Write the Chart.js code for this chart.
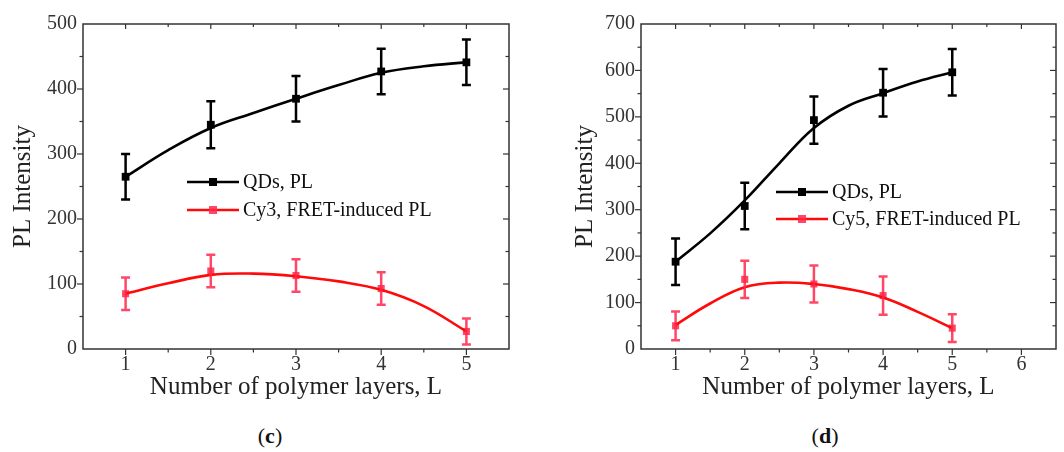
<!DOCTYPE html>
<html>
<head>
<meta charset="utf-8">
<script src="https://cdn.jsdelivr.net/npm/chart.js@4/dist/chart.umd.min.js"></script>
<style>
  body { margin: 0; background: #fff; width: 1064px; height: 452px; position: relative; overflow: hidden; }
  canvas { position: absolute; top: 0; }
  #chartC { left: 0; }
  #chartD { left: 532px; }
  .cap { position: absolute; top: 423px; font: 22px "Liberation Serif", serif; color: #111; transform: translateX(-50%); }
</style>
</head>
<body>
<canvas id="chartC" width="532" height="410"></canvas>
<canvas id="chartD" width="532" height="410"></canvas>
<div class="cap" style="left:270px">(<b>c</b>)</div>
<div class="cap" style="left:825px">(<b>d</b>)</div>
<script>
// measured points and the fitted curves, x = number of polymer layers
const layers = [1, 2, 3, 4, 5];
const fitLayers = [1, 1.5, 2, 2.5, 3, 3.5, 4, 4.5, 5];

// panel (c): QDs + Cy3
const qdPL_c = [265, 345, 385, 427, 441];
const qdErr_c = [35, 36, 35, 35, 35];
const qdFit_c = [265, 306, 340, 363, 385, 406, 425, 435, 441];
const cy3PL = [85, 120, 113, 93, 27];
const cy3Err = [25, 25, 25, 25, 20];
const cy3Fit = [85, 101, 114, 116, 112, 104, 91, 66, 27];

// panel (d): QDs + Cy5
const qdPL_d = [188, 308, 493, 552, 596];
const qdErr_d = [50, 50, 51, 51, 50];
const qdFit_d = [188, 249, 320, 400, 476, 524, 551, 576, 596];
const cy5PL = [50, 150, 140, 115, 45];
const cy5Err = [31, 40, 40, 41, 30];
const cy5Fit = [52, 98, 133, 143, 140, 129, 111, 80, 45];

const xTicks_c = [1, 2, 3, 4, 5];
const xTicks_d = [1, 2, 3, 4, 5, 6];
const yTicks_c = [0, 100, 200, 300, 400, 500];
const yTicks_d = [0, 100, 200, 300, 400, 500, 600, 700];

const SERIF = "'Liberation Serif', 'DejaVu Serif', serif";
const AXIS = "#333";
const RED_LINE = "#ff0a0a";
const RED_MARK = "rgba(255, 40, 75, 0.85)";

const pts = (xs, ys) => xs.map((x, i) => ({ x, y: ys[i] }));

// frame on all four sides, outward ticks left/bottom, inward ticks top/right
const frameTicks = {
  id: "frameTicks",
  afterDraw(chart) {
    const { ctx, chartArea: a, scales: { x, y } } = chart;
    ctx.save();
    ctx.strokeStyle = AXIS;
    ctx.lineWidth = 1.5;
    ctx.strokeRect(a.left, a.top, a.right - a.left, a.bottom - a.top);
    ctx.lineWidth = 1.2;
    const seg = (x0, y0, x1, y1) => { ctx.beginPath(); ctx.moveTo(x0, y0); ctx.lineTo(x1, y1); ctx.stroke(); };
    for (let v = x.min + 0.5; v < x.max; v += 0.5) {
      const px = x.getPixelForValue(v);
      const major = Number.isInteger(v);
      seg(px, a.bottom, px, a.bottom + (major ? 6 : 3.5));
      seg(px, a.top, px, a.top + (major ? 5 : 3));
    }
    for (let v = y.min + 50; v < y.max; v += 50) {
      const py = y.getPixelForValue(v);
      const major = v % 100 === 0;
      seg(a.left, py, a.left - (major ? 6 : 3.5), py);
      seg(a.right, py, a.right - (major ? 6 : 3.5), py);
    }
    ctx.restore();
  }
};

// vertical error bars with caps, read from dataset.errorBars
const errorBars = {
  id: "errorBars",
  afterDatasetsDraw(chart) {
    const { ctx, scales: { y } } = chart;
    chart.data.datasets.forEach((ds, i) => {
      if (!ds.errorBars) return;
      const meta = chart.getDatasetMeta(i);
      ctx.save();
      ctx.strokeStyle = ds.borderColor;
      ctx.lineWidth = 2.5;
      meta.data.forEach((el, j) => {
        const v = ds.data[j].y, e = ds.errorBars[j];
        const y0 = y.getPixelForValue(v + e), y1 = y.getPixelForValue(v - e);
        ctx.beginPath();
        ctx.moveTo(el.x, y0); ctx.lineTo(el.x, y1);
        ctx.moveTo(el.x - 4.5, y0); ctx.lineTo(el.x + 4.5, y0);
        ctx.moveTo(el.x - 4.5, y1); ctx.lineTo(el.x + 4.5, y1);
        ctx.stroke();
      });
      ctx.restore();
    });
  }
};

// Origin-style legend: short line with a square marker, label to the right
const lineLegend = {
  id: "lineLegend",
  afterDraw(chart, args, opts) {
    const { ctx } = chart;
    ctx.save();
    ctx.font = "20px " + SERIF;
    ctx.textBaseline = "middle";
    opts.items.forEach((it, i) => {
      const y = opts.y + i * opts.step;
      ctx.strokeStyle = it.line;
      ctx.lineWidth = 2.4;
      ctx.beginPath(); ctx.moveTo(opts.x, y); ctx.lineTo(opts.x + 52, y); ctx.stroke();
      ctx.fillStyle = it.mark;
      ctx.fillRect(opts.x + 22, y - 4, 8, 8);
      ctx.fillStyle = "#111";
      ctx.fillText(it.label, opts.x + 56, y + 1);
    });
    ctx.restore();
  }
};

function makeChart(id, o) {
  return new Chart(document.getElementById(id), {
    type: "scatter",
    data: {
      datasets: [
        { data: pts(fitLayers, o.qdFit), showLine: true, borderColor: "#000", borderWidth: 2.6,
          pointRadius: 0, tension: 0.4 },
        { data: pts(fitLayers, o.dyeFit), showLine: true, borderColor: RED_LINE, borderWidth: 2.6,
          pointRadius: 0, tension: 0.4 },
        { data: pts(layers, o.qd), errorBars: o.qdErr, borderColor: "#000", backgroundColor: "#000",
          pointStyle: "rect", pointRadius: 5.5, borderWidth: 0 },
        { data: pts(layers, o.dye), errorBars: o.dyeErr, borderColor: RED_MARK, backgroundColor: RED_MARK,
          pointStyle: "rect", pointRadius: 5, borderWidth: 0 }
      ]
    },
    options: {
      responsive: false,
      animation: false,
      layout: { padding: { top: 24, right: o.padRight, left: 0, bottom: 0 } },
      plugins: {
        legend: { display: false },
        tooltip: { enabled: false },
        lineLegend: o.legend
      },
      scales: {
        x: {
          type: "linear",
          min: 0.5,
          max: o.xTicks[o.xTicks.length - 1] + 0.5,
          afterBuildTicks: (s) => { s.ticks = o.xTicks.map((v) => ({ value: v })); },
          afterFit: (s) => { s.height = 61; },
          grid: { drawOnChartArea: false, tickLength: 6, color: "rgba(0,0,0,0)" },
          border: { display: false },
          ticks: { font: { family: SERIF, size: 20 }, color: AXIS, padding: -2, maxRotation: 0 },
          title: { display: true, text: "Number of polymer layers, L", font: { family: SERIF, size: 25 },
            color: "#222", padding: { top: 0, bottom: 8 } }
        },
        y: {
          min: 0,
          max: o.yTicks[o.yTicks.length - 1],
          afterBuildTicks: (s) => { s.ticks = o.yTicks.map((v) => ({ value: v })); },
          afterFit: (s) => { s.width = o.yWidth; },
          grid: { drawOnChartArea: false, tickLength: 6, color: "rgba(0,0,0,0)" },
          border: { display: false },
          ticks: { font: { family: SERIF, size: 20 }, color: AXIS, padding: 0 },
          title: { display: true, text: "PL Intensity", font: { family: SERIF, size: 25 },
            color: "#222", padding: { top: o.yTitlePad, bottom: 0 } }
        }
      }
    },
    plugins: [errorBars, frameTicks, lineLegend]
  });
}

makeChart("chartC", {
  qd: qdPL_c, qdErr: qdErr_c, qdFit: qdFit_c,
  dye: cy3PL, dyeErr: cy3Err, dyeFit: cy3Fit,
  xTicks: xTicks_c, yTicks: yTicks_c,
  yWidth: 83, padRight: 23, yTitlePad: 8,
  legend: { x: 187, y: 182, step: 28, items: [
    { label: "QDs, PL", line: "#000", mark: "#000" },
    { label: "Cy3, FRET-induced PL", line: RED_LINE, mark: RED_MARK }
  ] }
});

makeChart("chartD", {
  qd: qdPL_d, qdErr: qdErr_d, qdFit: qdFit_d,
  dye: cy5PL, dyeErr: cy5Err, dyeFit: cy5Fit,
  xTicks: xTicks_d, yTicks: yTicks_d,
  yWidth: 109, padRight: 8, yTitlePad: 38,
  legend: { x: 244, y: 192, step: 27, items: [
    { label: "QDs, PL", line: "#000", mark: "#000" },
    { label: "Cy5, FRET-induced PL", line: RED_LINE, mark: RED_MARK }
  ] }
});
</script>
</body>
</html>
